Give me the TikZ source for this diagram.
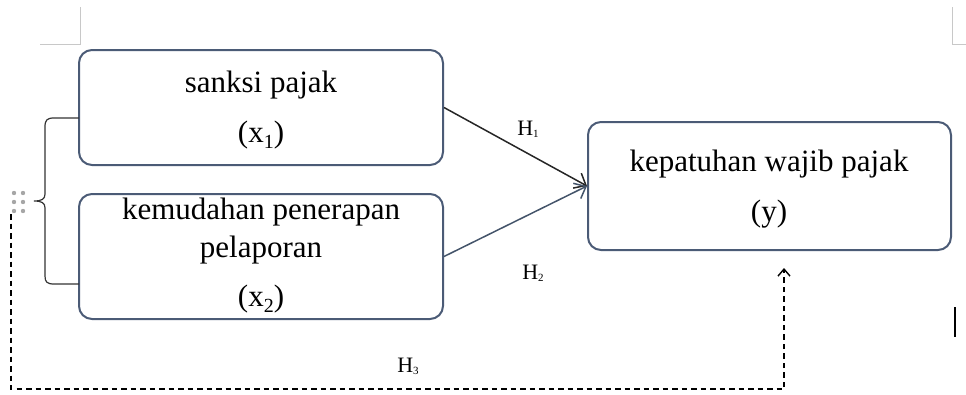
\documentclass[tikz,border=0pt]{standalone}
\usepackage{fontspec}
\setmainfont{Liberation Serif}
\usetikzlibrary{arrows.meta}
\definecolor{boxline}{HTML}{4B5B76}
\definecolor{arrowblue}{HTML}{44546A}
\definecolor{marks}{HTML}{C8C8C8}
\definecolor{dotgray}{HTML}{A6A6A6}
\newcommand{\bigtxt}{\fontsize{31}{36}\selectfont}
\newcommand{\subA}[1]{\raisebox{-0.22em}{\fontsize{20}{20}\selectfont #1}}
\newcommand{\hlab}[1]{\fontsize{22}{24}\selectfont H\raisebox{-0.12em}{\fontsize{11}{11}\selectfont #1}}
\begin{document}
\begin{tikzpicture}[x=1pt,y=-1pt,
  varbox/.style={draw=boxline,line width=2pt,rounded corners=13pt,minimum width=#1,inner sep=0pt},
  txt/.style={anchor=base,inner sep=0pt,font=\bigtxt},
  hyp/.style={anchor=base,inner sep=0pt},
  rel/.style={line width=1.5pt,-{Straight Barb[length=10pt,width=17pt,line width=1.5pt]}},
  dash arrow/.style={line width=1.4pt,dash pattern=on 5.5pt off 4pt,-{Straight Barb[length=7pt,width=12pt,line width=1.4pt]}}]
\useasboundingbox (0,0) rectangle (966,394);
% corner marks
\draw[marks,line width=1pt] (80,7) -- (80,44) -- (40,44);
\draw[marks,line width=1pt] (952,7) -- (952,44) -- (966,44);
% boxes
\node[varbox=364pt,minimum height=115pt] (b1) at (261,107.5) {};
\node[varbox=364pt,minimum height=125pt] (b2) at (261,256.5) {};
\node[varbox=363pt,minimum height=128pt] (b3) at (769.5,186) {};
% texts
\node[txt] (t1a) at (261,92) {sanksi pajak};
\node[txt] (t1b) at (261,142) {(x\subA{1})};
\node[txt] (t2a) at (261,219) {kemudahan penerapan};
\node[txt] (t2b) at (261,257) {pelaporan};
\node[txt] (t2c) at (261,306) {(x\subA{2})};
\node[txt] (t3a) at (769,171) {kepatuhan wajib pajak};
\node[txt] (t3b) at (769,221) {(y)};
% hypothesis labels
\node[hyp] (h1) at (528,135) {\hlab{1}};
\node[hyp] (h2) at (533,279) {\hlab{2}};
\node[hyp] (h3) at (408,372) {\hlab{3}};
% arrows
\draw[rel,black!85] (b1.east) -- (b3.west);
\draw[rel,arrowblue] (b2.east) -- (b3.west);
% dashed connector
\coordinate (d0) at (11,214);
\coordinate (d1) at (11,389);
\coordinate (d2) at (784,389);
\coordinate (d3) at (784,268);
\draw[dash arrow] (d0) -- (d1) -- (d2) -- (d3);
% dots
\foreach \yy in {193,202,211}{
  \fill[dotgray] (14,\yy) circle (2.2pt);
  \fill[dotgray] (23,\yy) circle (2.2pt);
}
% brace
\draw[black!80,line width=1.2pt] (79,118) -- (54,118) .. controls (47,118) and (45,120) .. (45,127) -- (45,194) .. controls (45,199) and (42,201) .. (34,201) .. controls (42,201) and (45,203) .. (45,208) -- (45,276) .. controls (45,282) and (47,284) .. (54,284) -- (79,284);
% cursor
\draw[black,line width=2pt] (955,307) -- (955,337);
\end{tikzpicture}
\end{document}
